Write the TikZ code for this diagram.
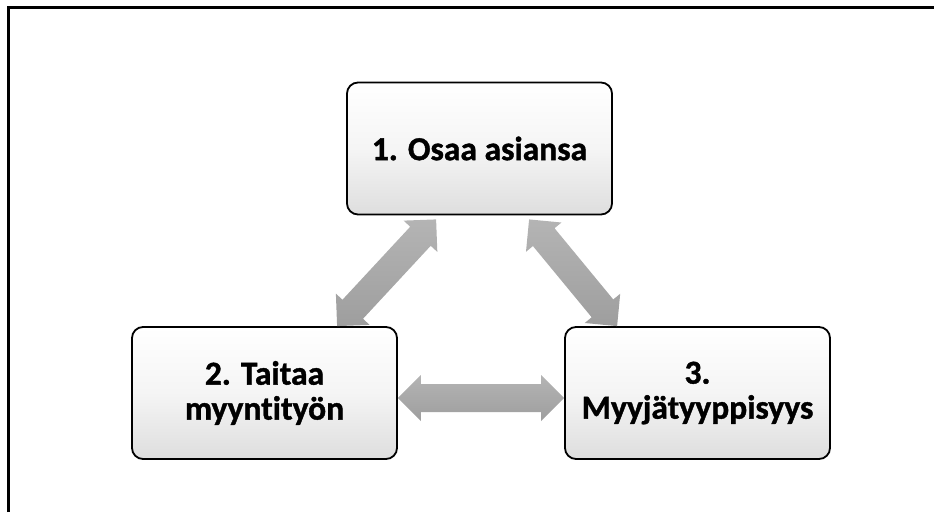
\documentclass[tikz,border=0pt]{standalone}
\usepackage{fontspec}
\setmainfont{Carlito}[Ligatures=NoCommon, BoldFeatures={FakeBold=1.2}]
\usetikzlibrary{calc}
\definecolor{arrowtop}{HTML}{B4B4B4}
\definecolor{arrowbot}{HTML}{9E9E9E}
\tikzset{
  box/.style={draw=black, line width=1.8pt, rounded corners=11pt,
    top color=white, bottom color=black!13, middle color=white!96!black,
    minimum width=265pt, minimum height=132pt, align=center,
    font=\bfseries\fontsize{33.5}{35}\selectfont, inner sep=0pt},
  arrowfill/.style={top color=arrowtop, bottom color=arrowbot, draw=none},
  frameline/.style={line width=3pt}
}
\newcommand\dblarrow[2]{%
  \path (#1) coordinate (tA) (#2) coordinate (tB);
  \path ($(tA)!23pt!(tB)$) coordinate (hA) ($(tB)!23pt!(tA)$) coordinate (hB);
  \shade[arrowfill] (tA) -- ($(hA)!23pt!90:(tB)$) -- ($(hA)!14pt!90:(tB)$)
    -- ($(hB)!14pt!-90:(tA)$) -- ($(hB)!23pt!-90:(tA)$) -- (tB)
    -- ($(hB)!23pt!90:(tA)$) -- ($(hB)!14pt!90:(tA)$)
    -- ($(hA)!14pt!-90:(tB)$) -- ($(hA)!23pt!-90:(tB)$) -- cycle;}
\begin{document}
\begin{tikzpicture}[x=1pt,y=-1pt]
\useasboundingbox (0,0) rectangle (934,512);
\draw[frameline] (8,512) -- (8,7) -- (934,7);
\node[box] (b1) at (479.5,148.5) {1. Osaa asiansa};
\node[box] (b2) at (264.5,393) {2. Taitaa\\myyntityön};
\node[box] (b3) at (697.5,393) {3.\\Myyjätyyppisyys};
\coordinate (l1) at ($(b2.north west)+(206,0)$);
\coordinate (l2) at ($(b1.south west)+(90,4)$);
\coordinate (r1) at ($(b1.south west)+(183,4)$);
\coordinate (r2) at ($(b3.north west)+(53,0)$);
\coordinate (h1) at ($(b2.east)+(0,5)$);
\coordinate (h2) at ($(b3.west)+(0,5)$);
\dblarrow{l1}{l2}
\dblarrow{r1}{r2}
\dblarrow{h1}{h2}
\end{tikzpicture}
\end{document}
